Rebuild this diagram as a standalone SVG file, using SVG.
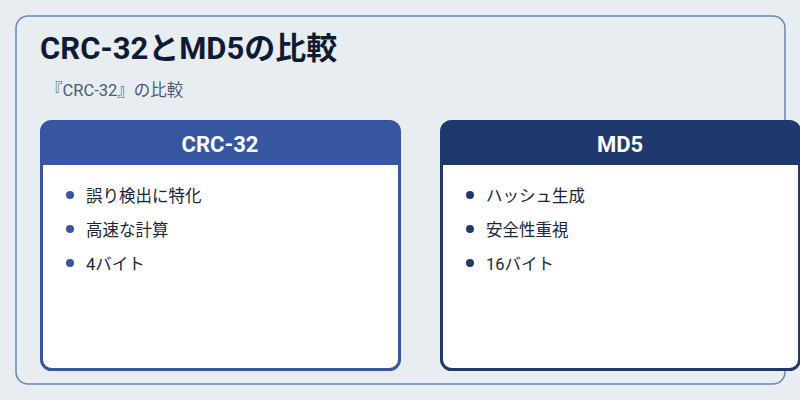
<svg xmlns="http://www.w3.org/2000/svg" width="800" height="400" viewBox="0 0 800 400">
<style>
text{font-family:Roboto,"Noto Sans CJK JP",sans-serif}
.t{font-size:31px;font-weight:bold;fill:#0f1b33}
.s{font-size:16.5px;fill:#4a5a73}
.h{font-size:22px;font-weight:bold;fill:#fff;text-anchor:middle}
.i{font-size:16.5px;fill:#1a2438}
</style>
<rect width="800" height="400" fill="#e8edf2"/>
<rect x="16" y="16" width="769" height="368" rx="12" fill="none" stroke="#6b84b0" stroke-width="1.5"/>
<text class="t" x="40" y="59">CRC-32とMD5の比較</text>
<text class="s" x="46" y="96">『CRC-32』の比較</text>
<g id="crc32">
<rect x="41.5" y="121.5" width="358" height="248" rx="10" fill="#fff" stroke="#3656a0" stroke-width="3"/>
<path d="M41.5 165 V131.5 a10 10 0 0 1 10 -10 H389.5 a10 10 0 0 1 10 10 V165 Z" fill="#3656a0"/>
<text class="h" x="220" y="152">CRC-32</text>
<g fill="#3656a0"><circle cx="70" cy="195" r="4"/><circle cx="70" cy="229" r="4"/><circle cx="70" cy="263" r="4"/></g>
<text class="i" x="86" y="202">誤り検出に特化</text>
<text class="i" x="86" y="236">高速な計算</text>
<text class="i" x="86" y="270">4バイト</text>
</g>
<g id="md5">
<rect x="441.5" y="121.5" width="358" height="248" rx="10" fill="#fff" stroke="#1f386e" stroke-width="3"/>
<path d="M441.5 165 V131.5 a10 10 0 0 1 10 -10 H789.5 a10 10 0 0 1 10 10 V165 Z" fill="#1f386e"/>
<text class="h" x="620" y="152">MD5</text>
<g fill="#1f386e"><circle cx="470" cy="195" r="4"/><circle cx="470" cy="229" r="4"/><circle cx="470" cy="263" r="4"/></g>
<text class="i" x="486" y="202">ハッシュ生成</text>
<text class="i" x="486" y="236">安全性重視</text>
<text class="i" x="486" y="270">16バイト</text>
</g>
<g id="connectors"/>
</svg>
